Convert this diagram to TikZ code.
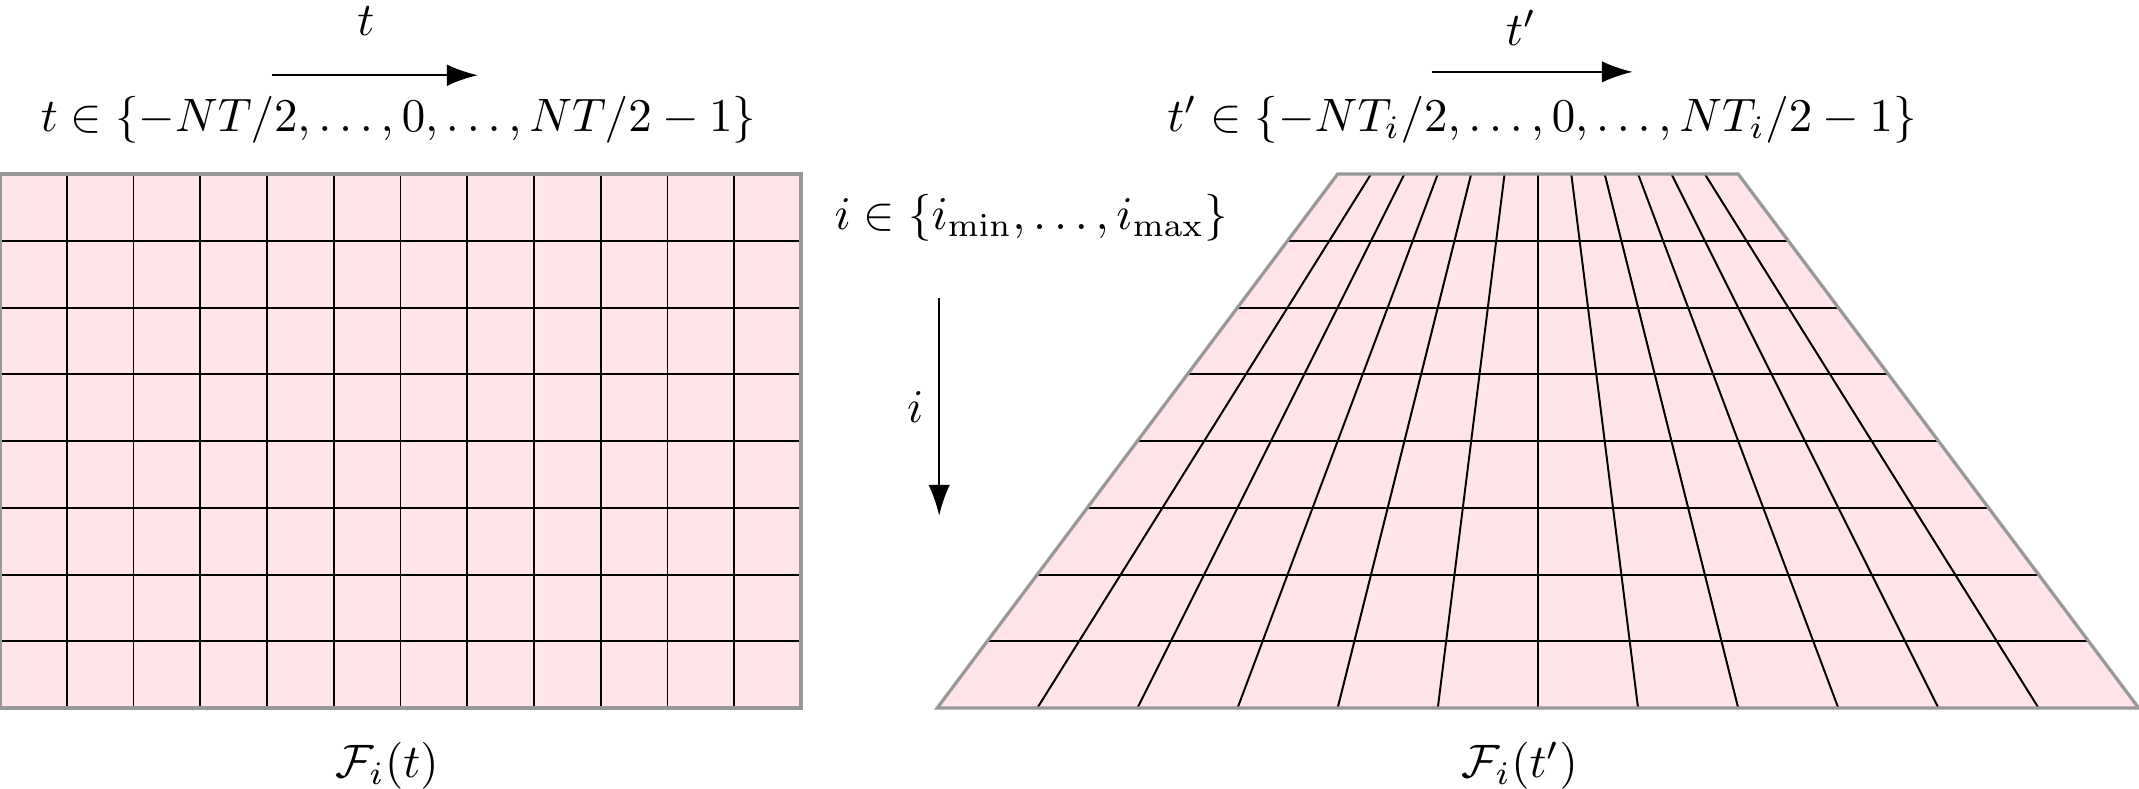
\documentclass[tikz,border=0pt]{standalone}
\usetikzlibrary{arrows.meta}
\definecolor{cellpink}{RGB}{255,228,233}
\definecolor{edgegray}{RGB}{152,152,152}
\begin{document}
\begin{tikzpicture}[x=0.5cm,y=0.5cm,
  lbl/.style={font=\fontsize{10.45}{12.5}\selectfont, inner sep=0pt},
  gridline/.style={black, line width=0.42pt},
  border/.style={edgegray, line width=0.7pt, line join=miter},
  axisarrow/.style={line width=0.5pt, -{Latex[length=6.6pt,width=4.6pt]}}]
\useasboundingbox (0,-1.199) rectangle (32.045,10.607);
% ---------- left grid ----------
\fill[cellpink] (0,0) rectangle (12,8);
\foreach \x in {1,...,11} \draw[gridline] (\x,0) -- (\x,8);
\foreach \y in {1,...,7} \draw[gridline] (0,\y) -- (12,\y);
\draw[border] (0,0) rectangle (12,8);
% ---------- right trapezoid ----------
\def\cx{23.04}
\fill[cellpink] (\cx-9,0) -- (\cx+9,0) -- (\cx+3,8) -- (\cx-3,8) -- cycle;
\foreach \y in {1,...,7} \draw[gridline] ({\cx-9+0.75*\y},\y) -- ({\cx+9-0.75*\y},\y);
\foreach \k in {1,...,11} \draw[gridline] ({\cx+(\k-6)*1.5},0) -- ({\cx+(\k-6)*0.5},8);
\draw[border] (\cx-9,0) -- (\cx+9,0) -- (\cx+3,8) -- (\cx-3,8) -- cycle;
% ---------- arrows ----------
\coordinate (ta0) at (4.07,9.48);
\coordinate (ta1) at (7.16,9.48);
\draw[axisarrow] (ta0) -- (ta1);
\coordinate (tp0) at (21.45,9.53);
\coordinate (tp1) at (24.46,9.53);
\draw[axisarrow] (tp0) -- (tp1);
\coordinate (ia0) at (14.07,6.14);
\coordinate (ia1) at (14.07,2.88);
\draw[axisarrow] (ia0) -- (ia1);
% ---------- labels ----------
\node[lbl, anchor=base] (tlab) at (5.48,10.08) {$t$};
\node[lbl, anchor=base] (tplab) at (22.79,9.93) {$t'$};
\node[lbl, anchor=base] (tset) at (5.97,8.64) {$t \in \{-NT/2,\ldots,0,\ldots,NT/2-1\}$};
\node[lbl, anchor=base] (tpset) at (23.1,8.64) {$t' \in \{-NT_i/2,\ldots,0,\ldots,NT_i/2-1\}$};
\node[lbl, anchor=base] (iset) at (15.45,7.17) {$i \in \{i_{\min},\ldots,i_{\max}\}$};
\node[lbl] (ilab) at (13.71,4.51) {$i$};
\node[lbl] (fl) at (5.8,-0.86) {$\mathcal{F}_i(t)$};
\node[lbl] (fr) at (22.77,-0.86) {$\mathcal{F}_i(t')$};
\end{tikzpicture}
\end{document}
